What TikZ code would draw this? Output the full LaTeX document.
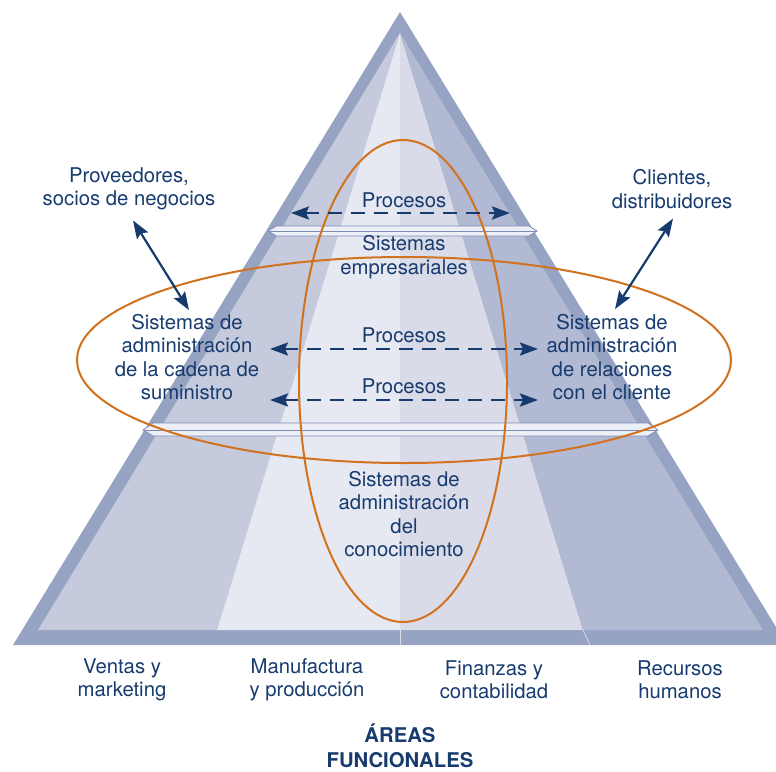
\documentclass[tikz,border=0pt]{standalone}
\usepackage{fontspec}
\setmainfont{TeX Gyre Heros}
\usetikzlibrary{arrows.meta}
\definecolor{bandblue}{HTML}{96A3C2}
\definecolor{facetA}{HTML}{C5CADD}
\definecolor{facetB}{HTML}{E6E8F2}
\definecolor{facetC}{HTML}{D9DCE8}
\definecolor{facetD}{HTML}{B2B9D2}
\definecolor{shelfline}{HTML}{7D8DB5}
\definecolor{navy}{HTML}{173B6E}
\definecolor{rust}{HTML}{D2721E}
\tikzset{
  lbl/.style={text=navy, align=center, inner sep=0pt, font=\fontsize{20.3}{23.3}\selectfont},
  procarrow/.style={draw=navy, line width=2.8pt, dash pattern=on 14pt off 9pt,
    {Stealth[length=18pt,width=13pt,inset=3pt]}-{Stealth[length=18pt,width=13pt,inset=3pt]}},
  linkarrow/.style={draw=navy, line width=2.2pt,
    {Stealth[length=18pt,width=13pt,inset=3pt]}-{Stealth[length=18pt,width=13pt,inset=3pt]}},
  ring/.style={draw=rust, line width=2pt},
  shelf/.style={fill=facetB!70!white, draw=shelfline, line width=0.8pt},
}

\begin{document}
\begin{tikzpicture}[x=1pt, y=-1pt]
		%%%%% START %%%%%
		\useasboundingbox (0,0) rectangle (776,771);
		
		% pyramid body
		\fill[bandblue] (400,12) -- (787,645) -- (13,645) -- cycle;
		\fill[facetA] (400,33) -- (217,630) -- (38,630) -- cycle;
		\fill[facetB] (400,33) -- (400,630) -- (217,630) -- cycle;
		\fill[facetC] (400,33) -- (583,630) -- (400,630) -- cycle;
		\fill[facetD] (400,33) -- (763,630) -- (583,630) -- cycle;
		\draw[facetC, line width=0.8pt] (400,630) -- (400,645);
		\draw[facetC, line width=0.8pt] (583,630) -- (590,645);
		
		% shelves
		\draw[shelf] (268,231) -- (276,226) -- (529,226) -- (537,231) -- (529,236) -- (276,236) -- cycle;
		\draw[shelfline, line width=0.8pt] (268,231) -- (537,231);
		\draw[shelf] (143,430) -- (153,423) -- (648,423) -- (658,430) -- (648,436) -- (153,436) -- cycle;
		\draw[shelfline, line width=0.8pt] (143,430) -- (658,430);
		
		% rings
		\draw[ring] (403,381) ellipse [x radius=104pt, y radius=241pt];
		\draw[ring] (404,360) ellipse [x radius=327pt, y radius=103pt];
		
		% labels
		\node[lbl] (prov) at (129,189) {Proveedores,\\socios de negocios};
		\node[lbl] (cli) at (672,189) {Clientes,\\distribuidores};
		\node[lbl] (proc1) at (404,200) {Procesos};
		\node[lbl] (erp) at (404,257) {Sistemas\\empresariales};
		\node[lbl] (scm) at (187,357) {Sistemas de\\administración\\de la cadena de\\suministro};
		\node[lbl] (crm) at (612,357) {Sistemas de\\administración\\de relaciones\\con el cliente};
		\node[lbl] (proc2) at (404,335) {Procesos};
		\node[lbl] (proc3) at (404,386) {Procesos};
		\node[lbl] (km) at (404,514) {Sistemas de\\administración\\del\\conocimiento};
		
		\node[lbl] (ventas) at (122,680) {Ventas y\\marketing};
		\node[lbl] (manuf) at (307,680) {Manufactura\\y producción};
		\node[lbl] (fin) at (494,680) {Finanzas y\\contabilidad};
		\node[lbl] (rh) at (680,680) {Recursos\\humanos};
		\node[lbl, font=\fontsize{20.3}{24.5}\selectfont\bfseries] (areas) at (400,746) {ÁREAS\\FUNCIONALES};
		
		% process flows
		\coordinate (p1w) at (291,213);
		\coordinate (p1e) at (510,213);
		\coordinate (p2w) at (270,349);
		\coordinate (p2e) at (538,349);
		\coordinate (p3w) at (270,400);
		\coordinate (p3e) at (538,400);
		\draw[procarrow] (p1w) -- (p1e);
		\draw[procarrow] (p2w) -- (p2e);
		\draw[procarrow] (p3w) -- (p3e);
		
		% outside links
		\draw[linkarrow] ([shift={(4,10)}]prov.south) -- ([shift={(2,-4)}]scm.north);
		\draw[linkarrow] ([shift={(1,10)}]cli.south) -- ([shift={(3,-5)}]crm.north);
		%%%%% END %%%%%
	\end{tikzpicture}
\end{document}
